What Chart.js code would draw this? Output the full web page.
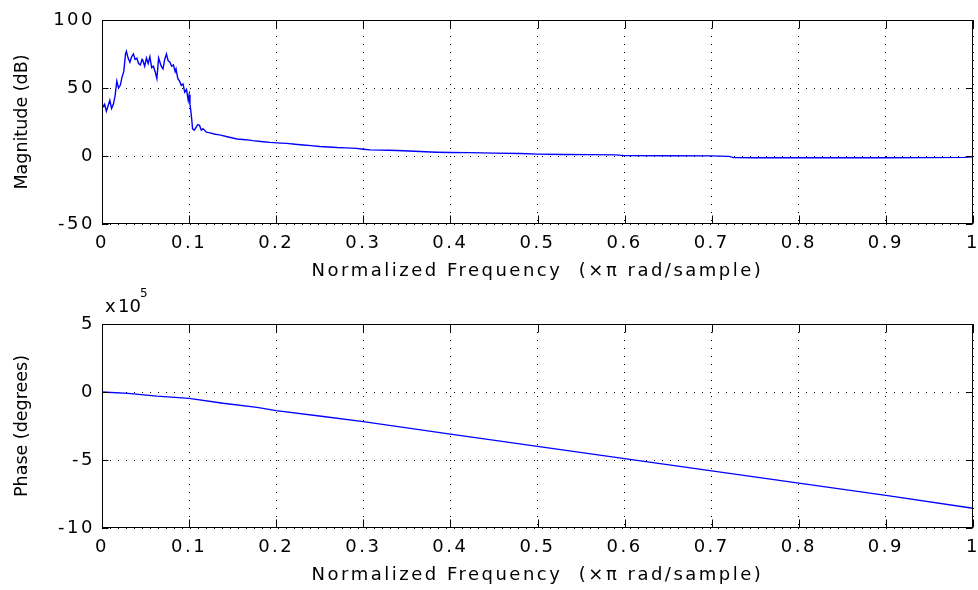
<!DOCTYPE html>
<html>
<head>
<meta charset="utf-8">
<script src="https://cdn.jsdelivr.net/npm/chart.js@4.4.1/dist/chart.umd.min.js"></script>
<style>
  html, body { margin: 0; padding: 0; background: #fff; }
  #wrap { position: relative; width: 978px; height: 590px; overflow: hidden; }
  canvas { position: absolute; left: 0; }
  #magChart { top: 0; }
  #phaseChart { top: 280px; }
</style>
</head>
<body>
<div id="wrap">
  <canvas id="magChart" width="978" height="290"></canvas>
  <canvas id="phaseChart" width="978" height="310"></canvas>
</div>
<script>
// Magnitude response (x = normalized freq, y = dB)
const magFreq = [0, 0.003, 0.005, 0.007, 0.009, 0.011, 0.013, 0.015, 0.017, 0.019,
  0.021, 0.023, 0.025, 0.027, 0.028, 0.030, 0.032, 0.034, 0.036, 0.038,
  0.040, 0.042, 0.044, 0.046, 0.047, 0.049, 0.051, 0.053, 0.055, 0.057,
  0.059, 0.061, 0.063, 0.065, 0.066, 0.068, 0.070, 0.072, 0.074, 0.076,
  0.078, 0.080, 0.082, 0.084, 0.085, 0.087, 0.089, 0.091, 0.093, 0.095,
  0.097, 0.099, 0.100, 0.101, 0.102, 0.103, 0.104, 0.106, 0.108, 0.110,
  0.112, 0.114, 0.116, 0.120, 0.124, 0.130, 0.135, 0.145, 0.155, 0.165,
  0.173, 0.185, 0.193, 0.205, 0.212, 0.222, 0.231, 0.240, 0.250, 0.260,
  0.270, 0.280, 0.292, 0.300, 0.308, 0.330, 0.346, 0.365, 0.384, 0.400,
  0.422, 0.450, 0.480, 0.500, 0.530, 0.560, 0.590, 0.600, 0.650, 0.700,
  0.720, 0.725, 0.750, 0.800, 0.850, 0.900, 0.950, 0.990, 1.000];
const magDb = [35, 38, 33, 37, 41, 35, 38, 44, 55, 50,
  52, 58, 62, 75, 77, 72, 69, 73, 75, 71,
  72, 68, 67, 71, 70, 66, 72, 68, 73, 65,
  66, 62, 57, 72, 70, 66, 64, 71, 75, 70,
  69, 66, 67, 62, 64, 57, 55, 52, 53, 47,
  49, 41, 45, 38, 33, 27, 20, 19, 21, 23,
  22.5, 19, 20, 17.5, 17, 16, 15.5, 14, 12.5, 12,
  11.3, 10.5, 10, 9.5, 9.3, 8.6, 8.1, 7.6, 7, 6.6,
  6.2, 6, 5.6, 5, 4.5, 4.2, 3.9, 3.3, 2.8, 2.6,
  2.5, 2.1, 1.8, 1.4, 1.1, 1.0, 0.8, 0.3, 0.2, 0.1,
  -0.3, -1.2, -1.3, -1.3, -1.3, -1.3, -1.2, -1.0, -0.6];

// Phase response (degrees)
const phaseFreq = [0, 0.03, 0.063, 0.1, 0.139, 0.178, 0.2, 0.254, 0.3,
  0.4, 0.5, 0.6, 0.7, 0.8, 0.9, 1.0];
const phaseDeg = [0, -10000, -30000, -47000, -83000, -113000, -137000, -180000, -218000,
  -310000, -400000, -490000, -580000, -670000, -760000, -855000];

const xTitle = 'Normalized Frequency  (\u00d7\u03c0 rad/sample)';
const FONT = 'DejaVu Sans';

Chart.defaults.font.family = FONT;
Chart.defaults.color = '#000';

// MATLAB style box, inner tick marks, rotated y label and exponent
const matlabAxes = {
  id: 'matlabAxes',
  beforeDraw(chart) {
    chart.ctx.letterSpacing = '2.5px';
  },
  afterDraw(chart, args, opts) {
    const { ctx, chartArea: a, scales: { x, y } } = chart;
    ctx.save();
    ctx.letterSpacing = '0px';
    ctx.strokeStyle = '#000';
    ctx.lineWidth = 1;
    const L = Math.round(a.left) + 0.5, R = Math.round(a.right) - 0.5;
    const T = Math.round(a.top) + 0.5, B = Math.round(a.bottom) - 0.5;
    ctx.strokeRect(L, T, R - L, B - T);
    ctx.beginPath();
    x.ticks.forEach(t => {
      const px = Math.round(x.getPixelForValue(t.value)) + 0.5;
      ctx.moveTo(px, B); ctx.lineTo(px, B - 8);
      ctx.moveTo(px, T); ctx.lineTo(px, T + 8);
    });
    y.ticks.forEach(t => {
      const py = Math.round(y.getPixelForValue(t.value)) + 0.5;
      ctx.moveTo(L, py); ctx.lineTo(L + 6, py);
      ctx.moveTo(R, py); ctx.lineTo(R - 6, py);
    });
    ctx.stroke();

    ctx.fillStyle = '#000';
    if (opts.exponent) {
      ctx.font = `18px "${FONT}"`;
      ctx.textAlign = 'left';
      ctx.textBaseline = 'alphabetic';
      ctx.fillText('x', 105, a.top - 12);
      ctx.fillText('10', 118, a.top - 12);
      ctx.font = `12px "${FONT}"`;
      ctx.fillText('5', 140, a.top - 27);
    }
    ctx.font = `17.5px "${FONT}"`;
    ctx.translate(opts.titleX, (a.top + a.bottom) / 2);
    ctx.rotate(-Math.PI / 2);
    ctx.textAlign = 'center';
    ctx.textBaseline = 'middle';
    ctx.fillText(opts.yTitle, 0, 0);
    ctx.restore();
  }
};

function makeChart(canvas, freq, vals, yMin, yMax, yStep, yFmt, padTop, xAxisH, titlePad, pluginOpts) {
  return new Chart(canvas, {
    type: 'line',
    data: {
      datasets: [{
        data: freq.map((f, i) => ({ x: f, y: vals[i] })),
        borderColor: '#0000ff',
        borderWidth: 1.4,
        pointRadius: 0,
        tension: 0,
        fill: false
      }]
    },
    options: {
      responsive: false,
      animation: false,
      devicePixelRatio: 1,
      layout: { padding: { top: padTop, right: 5, left: 0, bottom: 0 } },
      plugins: {
        legend: { display: false },
        tooltip: { enabled: false },
        matlabAxes: pluginOpts
      },
      scales: {
        x: {
          type: 'linear',
          min: 0,
          max: 1,
          ticks: {
            stepSize: 0.1,
            font: { size: 18 },
            padding: 9,
            maxRotation: 0,
            autoSkip: false,
            callback: v => String(+v.toFixed(1))
          },
          grid: { color: '#000', drawTicks: false, lineWidth: 1 },
          border: { display: false, dash: [1, 7] },
          title: {
            display: true,
            text: xTitle,
            font: { size: 18 },
            padding: { top: 0, bottom: titlePad }
          },
          afterFit(s) { s.height = xAxisH; s.paddingLeft = 0; s.paddingRight = 0; }
        },
        y: {
          min: yMin,
          max: yMax,
          ticks: { stepSize: yStep, font: { size: 18 }, padding: 7, callback: yFmt },
          grid: { color: '#000', drawTicks: false, lineWidth: 1 },
          border: { display: false, dash: [1, 7] },
          afterFit(s) { s.width = 102; s.paddingTop = 0; s.paddingBottom = 0; }
        }
      }
    },
    plugins: [matlabAxes]
  });
}

makeChart(document.getElementById('magChart'), magFreq, magDb,
  -50, 100, 50, v => String(v), 20, 66, 8,
  { yTitle: 'Magnitude (dB)', titleX: 22 });

makeChart(document.getElementById('phaseChart'), phaseFreq, phaseDeg,
  -1000000, 500000, 500000, v => String(Math.round(v / 100000)), 44, 62, 4,
  { yTitle: 'Phase (degrees)', titleX: 22, exponent: true });
</script>
</body>
</html>
